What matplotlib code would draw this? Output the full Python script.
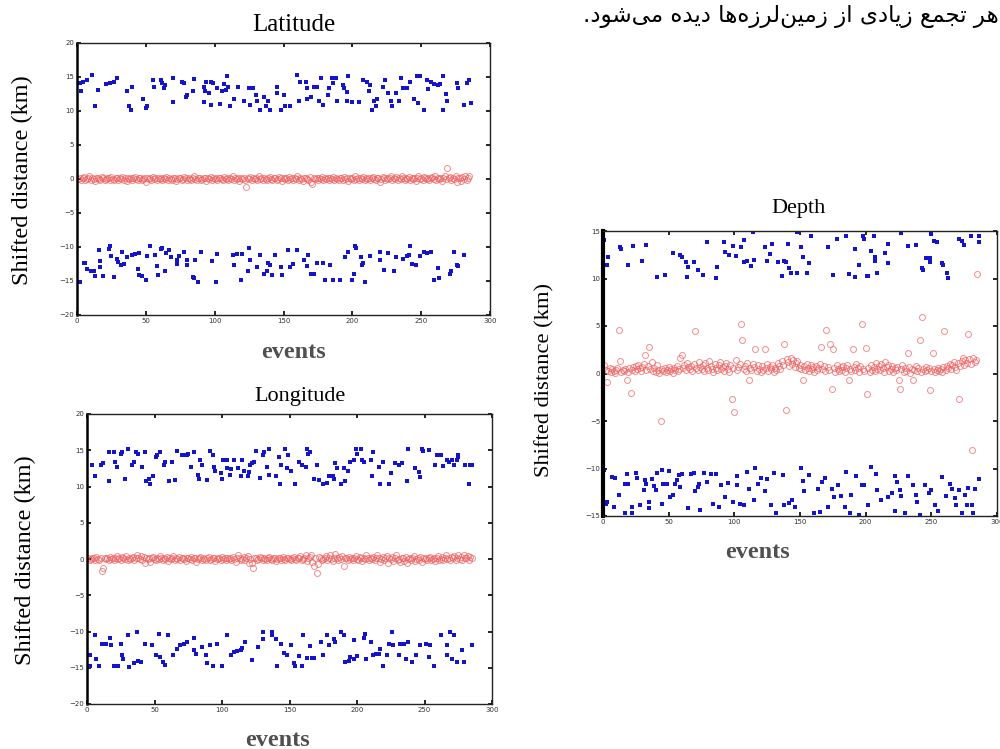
import matplotlib
matplotlib.use("Agg")
import matplotlib.pyplot as plt
import numpy as np

# ---- data ----
# Latitude panel
lat_up_x = [2, 4, 3, 7, 11, 13, 15, 21, 24, 27, 29, 36, 38, 39, 40, 48, 50, 51, 55, 56,
            61, 62, 63, 64, 70, 70, 76, 78, 79, 80, 84, 85, 92, 93, 94, 97, 99, 96, 92, 97,
            102, 104, 105, 107, 108, 109, 110, 111, 114, 117, 121, 125, 126, 127, 128, 130, 131, 133, 136, 137,
            139, 140, 145, 145, 148, 150, 151, 155, 160, 161, 162, 166, 167, 167, 170, 172, 174, 176, 177, 179,
            182, 183, 185, 186, 188, 189, 193, 194, 196, 196, 197, 200, 205, 208, 211, 213, 212, 216, 217, 214,
            218, 222, 224, 226, 228, 229, 232, 234, 235, 237, 240, 242, 245, 247, 249, 248, 252, 254, 257, 259,
            255, 262, 264, 266, 268, 269, 266, 276, 277, 281, 283, 285, 286]
lat_up_y = [14.1, 14.2, 12.9, 14.6, 15.3, 10.7, 13.1, 13.9, 14.1, 14.2, 14.8, 12.9, 10.8, 10.2, 13.6, 11.8, 10.4, 10.7, 14.6, 13.6,
            14.6, 14.1, 13.4, 13.8, 14.8, 11.3, 14.3, 14.1, 12.0, 12.4, 13.0, 14.7, 13.6, 12.9, 14.3, 14.3, 14.1, 12.6, 11.3, 10.9,
            13.4, 11.0, 13.0, 13.9, 13.1, 15.1, 13.5, 10.7, 11.7, 13.6, 11.4, 13.4, 10.9, 13.4, 13.4, 12.3, 11.4, 10.2, 12.1, 10.7,
            11.4, 10.2, 13.6, 12.6, 10.2, 12.4, 10.7, 10.8, 15.3, 11.4, 14.3, 14.3, 13.4, 11.8, 12.1, 13.5, 13.5, 11.5, 14.8, 10.9,
            12.3, 13.4, 14.8, 14.1, 14.8, 11.4, 13.8, 13.4, 11.4, 12.8, 15.2, 11.3, 11.3, 14.6, 14.3, 13.8, 13.0, 11.4, 10.8, 10.2,
            11.7, 13.5, 14.6, 12.6, 11.5, 10.7, 12.6, 11.4, 14.8, 13.4, 13.4, 14.2, 11.7, 15.1, 15.1, 11.2, 10.2, 14.6, 14.2, 13.9,
            13.3, 13.8, 13.9, 15.2, 12.5, 11.4, 10.2, 14.1, 13.4, 10.9, 14.1, 14.6, 11.2]
lat_lo_x = [2, 5, 6, 7, 10, 12, 13, 16, 17, 17, 19, 23, 24, 25, 27, 29, 30, 32, 33, 34,
            36, 40, 42, 45, 44, 45, 47, 50, 51, 53, 57, 58, 59, 61, 62, 64, 65, 67, 68, 73,
            73, 74, 78, 80, 80, 84, 85, 86, 88, 90, 98, 101, 102, 113, 114, 116, 119, 120, 124, 125,
            126, 131, 133, 136, 138, 139, 140, 142, 144, 148, 149, 153, 155, 157, 160, 165, 167, 168, 170, 172,
            174, 179, 180, 184, 186, 191, 195, 197, 200, 201, 202, 203, 206, 207, 208, 209, 213, 220, 220, 223,
            226, 230, 232, 237, 240, 241, 242, 243, 246, 249, 252, 254, 257, 262, 259, 263, 271, 272, 274, 276,
            277, 281]
lat_lo_y = [-15.1, -12.4, -12.3, -13.3, -13.5, -13.6, -14.3, -10.4, -12.0, -12.9, -14.3, -10.3, -9.9, -11.3, -14.4, -11.7, -12.2, -12.6, -10.8, -12.5,
            -11.4, -11.2, -11.0, -10.9, -13.3, -14.1, -14.3, -14.8, -11.3, -9.9, -11.2, -12.8, -14.1, -10.3, -10.1, -13.6, -10.9, -10.4, -11.4, -11.9,
            -12.5, -11.3, -10.7, -11.9, -12.6, -14.4, -14.6, -11.9, -15.1, -10.7, -12.0, -15.2, -11.0, -11.2, -12.6, -11.0, -14.8, -11.0, -13.5, -10.1,
            -11.9, -12.9, -11.2, -13.9, -13.5, -12.3, -12.6, -14.1, -11.2, -12.9, -14.1, -10.4, -12.9, -12.5, -10.4, -11.9, -12.8, -11.2, -13.9, -13.9,
            -12.4, -12.3, -14.8, -12.6, -14.8, -14.8, -11.5, -10.8, -14.8, -13.9, -9.9, -10.2, -11.4, -12.6, -12.3, -15.2, -11.3, -10.7, -11.9, -13.4,
            -10.9, -13.5, -11.4, -11.7, -11.3, -11.2, -9.9, -12.5, -12.6, -11.3, -10.8, -10.9, -10.8, -13.1, -14.8, -14.6, -13.9, -13.6, -10.8, -12.6,
            -12.8, -11.2]
lat_mid = [0.0, 0.2, -0.1, 0.1, 0.3, -0.2, 0.0, 0.1, 0.4, -0.1, 0.2, 0.0, -0.3, 0.1, 0.2,
           0.0, -0.1, 0.3, 0.1, -0.2, 0.0, 0.2, 0.1, -0.1, 0.3, 0.0, -0.2, 0.1, 0.2, -0.1,
           0.1, 0.0, 0.3, -0.1, 0.2, -0.3, 0.1, 0.0, 0.2, -0.1, 0.1, 0.3, 0.0, -0.2, 0.1,
           0.2, -0.1, 0.0, 0.1, -0.4, 0.2, 0.0, 0.1, -0.1, 0.3, 0.0, 0.1, -0.2, 0.2, 0.0,
           0.1, -0.1, 0.2, 0.0, 0.3, -0.2, 0.1, 0.0, -0.1, 0.2, 0.1, -0.3, 0.0, 0.2, 0.1,
           -0.1, 0.0, 0.3, 0.1, -0.2, 0.2, 0.0, -0.1, 0.1, 0.4, 0.0, -0.2, 0.1, 0.2, -0.1,
           0.0, 0.2, 0.1, -0.3, 0.1, 0.0, 0.3, -0.1, 0.2, 0.0, 0.1, -0.2, 0.2, 0.1, 0.0,
           -0.1, 0.3, 0.0, 0.1, -0.2, 0.2, 0.0, 0.4, -0.1, 0.1, 0.0, 0.2, -0.3, 0.1, 0.0,
           0.2, -0.1, -1.2, 0.1, 0.0, 0.3, -0.2, 0.1, 0.0, 0.2, -0.1, 0.4, 0.0, 0.1, -0.2,
           0.2, 0.0, -0.1, 0.1, 0.3, 0.0, -0.2, 0.2, 0.1, -0.1, 0.0, 0.3, 0.1, -0.3, 0.2,
           0.0, 0.1, -0.1, 0.3, 0.0, 0.2, -0.2, 0.1, 0.0, 0.4, -0.1, 0.2, 0.0, -0.3, 0.1,
           0.2, 0.0, -0.1, 0.3, -0.4, -0.8, 0.1, 0.0, 0.2, -0.2, 0.1, 0.0, 0.3, -0.1, 0.2,
           0.0, 0.1, -0.2, 0.2, 0.0, 0.3, -0.1, 0.1, 0.0, -0.2, 0.2, 0.1, -0.1, 0.3, 0.0,
           0.1, -0.3, 0.2, 0.0, 0.1, -0.1, 0.4, 0.0, 0.2, -0.2, 0.1, 0.0, 0.3, -0.1, 0.1,
           0.0, 0.2, -0.1, 0.1, 0.3, 0.0, -0.2, 0.2, 0.1, -0.4, 0.0, 0.3, 0.1, -0.1, 0.2,
           0.0, 0.1, 0.4, -0.2, 0.1, 0.0, 0.3, -0.1, 0.2, 0.0, 0.5, 0.1, -0.2, 0.2, 0.0,
           0.3, -0.1, 0.1, 0.0, 0.2, -0.3, 0.1, 0.4, 0.0, 0.2, -0.1, 0.3, 0.1, 0.0, 0.2,
           -0.2, 0.1, 0.3, 0.0, 0.5, -0.1, 0.2, 0.0, 0.1, -0.3, 0.2, 0.4, 0.0, 1.6, 0.1,
           0.3, -0.2, 0.1, 0.0, 0.4, -0.5, 0.2, 0.1, -0.3, 0.3, 0.0, 0.5, -0.2, 0.2, 0.4]

# Longitude panel
lon_up_x = [4, 6, 10, 12, 16, 16, 20, 21, 22, 25, 26, 28, 30, 33, 35, 36, 38, 41, 43, 44,
            46, 47, 49, 51, 52, 54, 57, 58, 61, 63, 65, 67, 70, 72, 74, 75, 77, 79, 82, 83,
            84, 85, 89, 91, 93, 94, 95, 99, 100, 101, 104, 104, 106, 107, 109, 112, 114, 115, 116, 119,
            120, 121, 122, 124, 125, 128, 130, 131, 133, 135, 135, 140, 142, 143, 144, 147, 148, 149, 151, 154,
            157, 159, 162, 163, 164, 165, 168, 170, 172, 175, 178, 179, 182, 183, 184, 185, 188, 190, 191, 193,
            195, 198, 199, 200, 203, 204, 205, 210, 211, 212, 216, 217, 219, 224, 225, 228, 231, 233, 237, 238,
            243, 246, 247, 248, 249, 253, 258, 259, 262, 264, 267, 268, 270, 272, 274, 275, 275, 280, 283, 284,
            285]
lon_up_y = [13.0, 11.4, 13.0, 13.2, 14.8, 10.7, 14.8, 13.4, 12.7, 14.5, 14.8, 11.0, 15.2, 12.9, 13.4, 14.8, 14.5, 12.7, 14.8, 10.7,
            11.1, 10.4, 11.5, 14.1, 14.3, 14.8, 12.9, 13.4, 10.7, 13.4, 10.9, 14.9, 14.4, 14.3, 14.3, 14.5, 12.7, 14.8, 11.6, 11.0,
            13.6, 12.9, 10.9, 14.9, 14.4, 12.7, 12.1, 11.9, 11.0, 13.6, 13.6, 12.5, 11.6, 12.4, 13.6, 12.5, 11.5, 13.6, 12.2, 11.4,
            12.0, 13.0, 13.2, 13.4, 14.9, 11.2, 14.4, 14.7, 12.7, 15.2, 11.6, 11.5, 14.1, 10.4, 12.9, 15.2, 12.5, 14.3, 12.2, 10.3,
            13.4, 13.0, 12.7, 15.2, 14.5, 14.8, 11.0, 12.9, 10.9, 10.4, 10.5, 11.5, 11.4, 11.1, 13.3, 12.5, 10.4, 12.5, 10.7, 12.2,
            13.4, 13.6, 15.2, 14.5, 15.2, 13.6, 13.4, 13.6, 11.5, 14.8, 12.7, 10.4, 13.4, 10.4, 11.8, 13.2, 13.0, 13.3, 10.7, 15.2,
            12.6, 12.0, 11.3, 15.2, 14.9, 15.0, 12.9, 14.3, 14.3, 12.8, 13.6, 13.4, 13.6, 12.9, 13.6, 14.4, 14.1, 13.0, 10.4, 12.9,
            12.9]
lon_lo_x = [2, 2, 6, 7, 9, 11, 14, 17, 18, 20, 22, 23, 25, 26, 27, 30, 31, 35, 37, 38,
            40, 43, 48, 51, 53, 54, 56, 58, 60, 64, 67, 69, 72, 74, 79, 79, 81, 85, 88, 89,
            91, 93, 96, 100, 104, 107, 109, 111, 114, 115, 117, 122, 127, 130, 130, 137, 137, 140, 141, 144,
            146, 148, 151, 153, 154, 157, 160, 159, 163, 165, 167, 168, 173, 175, 178, 179, 183, 184, 188, 190,
            191, 194, 195, 198, 198, 200, 205, 206, 207, 210, 212, 214, 216, 217, 219, 222, 224, 226, 227, 231,
            232, 235, 236, 238, 241, 244, 247, 251, 253, 254, 257, 262, 267, 267, 269, 270, 272, 274, 278, 279,
            285]
lon_lo_y = [-13.2, -14.7, -10.5, -13.8, -14.7, -11.7, -11.7, -10.9, -11.9, -14.8, -14.7, -14.7, -11.7, -13.3, -13.8, -10.5, -14.9, -14.3, -10.1, -14.1,
            -14.2, -11.7, -11.8, -13.3, -10.3, -13.5, -14.2, -14.6, -10.5, -13.3, -12.4, -11.8, -11.7, -11.5, -10.9, -12.6, -13.1, -12.1, -13.3, -14.4,
            -11.9, -14.8, -11.7, -14.8, -10.5, -13.3, -12.8, -12.7, -12.6, -12.3, -11.5, -13.9, -12.1, -10.0, -11.0, -10.1, -10.5, -11.0, -14.8, -11.7,
            -12.9, -13.2, -11.9, -14.4, -14.8, -13.4, -10.5, -14.7, -13.7, -12.0, -13.7, -13.7, -11.5, -13.3, -10.5, -11.8, -11.0, -11.4, -10.1, -10.5,
            -14.2, -14.1, -13.5, -13.8, -11.2, -13.4, -10.9, -10.4, -13.8, -11.5, -13.3, -13.1, -13.1, -12.4, -14.8, -13.3, -11.7, -10.1, -11.9, -13.3,
            -11.7, -11.7, -13.8, -11.5, -14.2, -13.2, -11.9, -11.7, -13.5, -11.9, -14.7, -10.5, -11.8, -13.2, -10.1, -13.8, -10.5, -14.2, -12.6, -14.2,
            -11.9]
lon_mid = [0.1, -0.1, 0.0, 0.2, 0.1, -0.2, 0.3, 0.0, -0.1, 0.2, -1.7, -1.3, 0.1, 0.0, 0.2,
           -0.1, 0.3, 0.0, 0.1, -0.2, 0.2, 0.4, 0.0, 0.1, -0.1, 0.3, 0.2, 0.0, 0.4, -0.1,
           0.2, 0.0, 0.1, 0.3, -0.1, 0.2, 0.5, 0.1, 0.0, 0.4, -0.2, 0.3, -0.5, 0.1, 0.0,
           0.2, -0.4, 0.1, 0.3, 0.0, -0.1, 0.2, 0.0, 0.4, 0.1, -0.2, 0.2, 0.0, 0.3, -0.3,
           0.1, 0.0, 0.2, 0.4, -0.1, 0.1, 0.0, 0.3, -0.2, 0.2, 0.1, 0.0, -0.3, 0.2, 0.1,
           0.0, 0.3, -0.1, 0.1, 0.2, -0.4, 0.0, 0.1, 0.3, -0.1, 0.2, 0.0, -0.2, 0.1, 0.3,
           -0.1, 0.0, 0.2, 0.1, -0.3, 0.0, 0.2, 0.1, -0.1, 0.3, 0.0, 0.1, -0.2, 0.2, 0.0,
           0.1, -0.1, 0.3, 0.0, -0.4, 0.2, 0.5, 0.1, -0.2, 0.0, 0.3, -0.1, 0.1, 0.4, -0.5,
           0.0, -0.6, -1.2, 0.2, 0.1, -0.2, 0.0, 0.3, 0.1, -0.1, 0.2, 0.0, -0.2, 0.1, 0.3,
           0.0, -0.1, 0.2, 0.1, -0.3, 0.0, 0.2, 0.1, -0.1, 0.3, 0.0, -0.2, 0.1, 0.2, 0.0,
           -0.1, 0.1, 0.3, 0.0, -0.2, 0.2, 0.1, 0.4, -0.1, 0.0, 0.2, 0.5, -0.3, 0.1, 0.3,
           0.6, -0.4, -0.9, 0.2, -1.9, -0.7, 0.3, 0.1, -0.2, 0.0, 0.2, 0.4, -0.1, 0.1, 0.5,
           0.0, -0.3, 0.2, 0.7, 0.1, -0.2, 0.3, 0.0, 0.4, -1.0, 0.1, 0.2, -0.1, 0.3, 0.0,
           0.2, -0.2, 0.1, 0.4, 0.0, -0.1, 0.3, 0.1, -0.3, 0.2, 0.0, 0.5, 0.1, -0.2, 0.2,
           0.0, 0.3, -0.1, 0.1, 0.6, 0.2, -0.4, 0.0, 0.3, -0.2, 0.1, 0.4, -0.5, 0.2, 0.0,
           0.3, -0.3, 0.1, 0.5, -0.2, 0.0, -0.4, 0.2, 0.1, -0.3, 0.3, -0.6, 0.0, 0.2, -0.2,
           0.1, 0.4, -0.3, 0.0, 0.2, -0.1, 0.3, -0.4, 0.1, 0.0, 0.2, -0.2, 0.1, 0.3, -0.1,
           0.0, 0.2, -0.3, 0.1, 0.4, -0.1, 0.0, 0.3, -0.2, 0.1, 0.5, 0.0, 0.2, -0.1, 0.3,
           0.1, 0.4, -0.2, 0.2, 0.6, 0.0, 0.3, -0.1, 0.5, 0.2, 0.1, 0.4, -0.2, 0.3, 0.2]

# Depth panel
dep_up_x = [0.5, 4, 3, 13, 14, 19, 23, 30, 33, 41, 47, 53, 59, 60, 63, 64, 65, 69, 72, 76,
            79, 86, 87, 92, 93, 96, 99, 101, 105, 107, 107, 110, 113, 115, 114, 123, 125, 127, 129, 133,
            136, 138, 141, 139, 142, 143, 148, 148, 151, 152, 155, 157, 158, 171, 175, 178, 185, 187, 192, 192,
            195, 198, 199, 201, 202, 204, 206, 207, 209, 207, 215, 217, 217, 227, 232, 238, 243, 244, 246, 249,
            249, 250, 252, 254, 258, 259, 262, 263, 271, 273, 275, 280, 286, 286]
dep_up_y = [14.1, 12.3, 11.4, 13.3, 13.1, 11.4, 13.4, 11.8, 13.5, 10.2, 10.4, 12.7, 12.5, 12.3, 11.7, 10.2, 11.2, 11.7, 10.9, 10.4,
            13.8, 10.1, 11.2, 13.8, 12.8, 12.5, 13.4, 12.4, 13.3, 14.1, 11.7, 11.8, 11.3, 11.9, 14.9, 13.3, 11.8, 12.6, 13.6, 11.7,
            10.3, 11.8, 13.6, 11.7, 11.1, 10.6, 10.6, 14.9, 13.3, 12.3, 10.6, 11.6, 14.5, 13.3, 10.4, 14.2, 14.5, 10.5, 13.1, 10.2,
            11.4, 14.5, 14.2, 10.3, 10.3, 12.9, 14.5, 12.3, 10.6, 11.8, 12.7, 13.6, 11.6, 14.8, 13.4, 13.5, 11.1, 10.9, 12.2, 12.2,
            11.7, 14.7, 14.0, 13.8, 11.6, 11.4, 10.6, 10.1, 14.2, 14.0, 13.5, 14.5, 14.5, 13.8]
dep_lo_x = [1, 2, 3, 7, 9, 8, 12, 17, 18, 17, 19, 22, 22, 25, 26, 28, 31, 32, 33, 35,
            35, 37, 39, 40, 41, 45, 45, 46, 49, 50, 51, 53, 55, 58, 56, 59, 60, 65, 67, 69,
            70, 72, 73, 74, 77, 79, 82, 84, 86, 88, 90, 93, 95, 99, 102, 102, 104, 107, 110, 111,
            115, 116, 118, 120, 123, 125, 128, 130, 132, 137, 138, 142, 144, 146, 151, 152, 153, 157, 161, 164,
            165, 167, 169, 171, 174, 176, 179, 181, 184, 185, 188, 189, 193, 195, 197, 199, 202, 204, 208, 209,
            212, 217, 220, 222, 222, 224, 226, 227, 230, 232, 236, 238, 239, 241, 245, 248, 250, 253, 255, 258,
            261, 264, 266, 268, 269, 271, 273, 276, 277, 278, 281, 282, 283, 286]
dep_lo_y = [-10.2, -13.7, -13.5, -10.9, -11.0, -14.0, -12.8, -14.7, -10.6, -11.6, -11.6, -14.0, -14.7, -10.5, -11.0, -13.8, -12.3, -11.2, -11.6, -13.5,
            -14.2, -11.1, -11.8, -12.3, -10.5, -10.2, -13.7, -11.6, -11.6, -10.3, -13.0, -12.8, -11.6, -10.7, -11.2, -11.9, -10.6, -14.2, -10.6, -10.5,
            -12.4, -11.9, -11.6, -14.4, -10.5, -11.4, -10.6, -13.7, -10.6, -14.0, -11.7, -13.0, -11.5, -13.5, -10.8, -11.7, -13.7, -13.8, -10.4, -12.2,
            -13.3, -9.9, -11.6, -11.0, -12.4, -11.1, -13.8, -10.5, -14.7, -10.7, -13.8, -13.6, -13.3, -14.1, -9.9, -11.3, -12.4, -10.7, -14.7, -12.2,
            -14.6, -11.4, -11.0, -14.0, -12.2, -13.0, -11.7, -12.9, -14.0, -10.4, -14.7, -12.8, -10.8, -14.9, -11.7, -11.7, -13.8, -9.8, -10.6, -12.3,
            -13.3, -13.0, -12.6, -10.8, -14.5, -11.4, -12.3, -12.9, -14.7, -10.8, -11.7, -12.8, -13.5, -14.9, -11.7, -12.6, -12.3, -13.8, -14.5, -10.9,
            -12.9, -11.6, -12.2, -13.1, -13.8, -12.3, -14.7, -12.8, -13.8, -12.0, -13.8, -14.7, -12.2, -11.1]
dep_mid = [0.9, 0.4, -0.9, 0.3, 0.6, 0.2, 0.5, 0.3, 0.1, 0.4, 0.6, 4.6, 1.3, 0.2, 0.4,
           0.3, 0.5, -0.7, 0.2, 0.6, -2.1, 0.4, 0.7, 0.3, 0.8, 0.5, 0.9, 0.6, 0.3, 0.7,
           1.0, 1.9, 0.4, 0.8, 2.8, 0.5, 1.2, 0.3, 0.6, 0.2, 0.9, 0.4, 0.1, -5.0, 0.5,
           0.3, 0.6, 0.2, 0.4, 0.7, 0.3, 0.5, 0.1, 0.6, 0.4, 0.8, 0.3, 0.5, 1.6, 2.0,
           0.6, 0.9, 0.4, 1.1, 0.7, 0.5, 0.8, 0.3, 1.0, 4.5, 0.6, 0.4, 1.2, 0.7, 0.5,
           0.9, 0.3, 1.1, 0.6, 0.4, 1.3, 0.8, 0.5, 0.2, 1.0, 0.6, 0.4, 0.9, 1.2, 0.5,
           0.7, 0.3, 0.8, 1.1, 0.5, 0.2, 0.9, -2.7, 0.6, -4.0, 1.4, 0.4, 0.7, 1.0, 5.2,
           3.5, 0.5, 0.8, 0.3, 1.1, -0.7, 0.6, 0.4, 1.0, 0.7, 2.6, 0.3, 0.9, 0.5, 0.2,
           0.8, 0.4, 2.6, 0.6, 1.0, 0.3, 0.7, 0.5, 0.9, 0.2, 0.6, 0.4, 1.1, 0.8, 0.5,
           1.3, 0.9, 3.1, -3.8, 1.5, 1.2, 0.8, 1.6, 1.0, 1.4, 0.7, 1.1, 1.3, 0.6, 0.9,
           0.5, -0.7, 0.8, 0.4, 1.0, 0.6, 0.3, 0.9, 0.5, 0.7, 0.2, 0.8, 0.4, 0.6, 1.0,
           2.8, 0.5, 0.8, 0.3, 4.6, 0.7, 0.4, 3.1, -1.6, 2.6, 0.6, 0.2, 0.9, 0.5, 0.3,
           0.7, 0.4, 0.8, 0.2, 0.6, 0.9, -0.7, 0.5, 0.3, 2.6, 0.7, 0.4, 1.0, 0.6, 0.2,
           0.8, 5.2, 0.5, 0.3, 2.7, -2.2, 0.6, 0.2, 0.9, 0.4, 0.7, 0.3, 1.1, 0.5, 0.8,
           0.4, 1.0, 0.6, 0.2, 1.2, 0.7, 0.9, 0.3, 0.5, 0.8, 0.2, 0.6, 0.4, 0.7, -0.7,
           -1.6, 0.5, 0.9, 0.2, 0.6, 0.3, 2.2, 0.7, 0.1, 0.5, -0.7, 0.4, 0.8, 0.3, 0.6,
           3.5, 0.2, 5.9, 0.5, 0.3, 0.7, 0.4, 0.6, -1.7, 0.3, 2.2, 0.5, 0.2, 0.4, 0.6,
           0.3, 0.5, 0.2, 0.7, 4.5, 0.4, 0.8, 0.6, 1.0, 0.5, 0.9, 1.2, 0.7, 0.4, 1.1,
           -2.7, 0.8, 1.3, 1.6, 0.9, 1.4, 1.1, 4.2, 1.5, 1.0, -8.1, 1.6, 1.2, 1.4, 10.5]

caption = "هر تجمع زیادی از زمین‌لرزه‌ها دیده می‌شود."

lat_ticks = [-20, -15, -10, -5, 0, 5, 10, 15, 20]
dep_ticks = [-15, -10, -5, 0, 5, 10, 15]
x_ticks = [0, 50, 100, 150, 200, 250, 300]


# matplotlib has no Arabic shaping, so map letters to presentation forms
FORMS = {
    'ا': ('\uFE8D', '\uFE8E', None, None),
    'ت': ('\uFE95', '\uFE96', '\uFE97', '\uFE98'),
    'ج': ('\uFE9D', '\uFE9E', '\uFE9F', '\uFEA0'),
    'د': ('\uFEA9', '\uFEAA', None, None),
    'ر': ('\uFEAD', '\uFEAE', None, None),
    'ز': ('\uFEAF', '\uFEB0', None, None),
    'ش': ('\uFEB5', '\uFEB6', '\uFEB7', '\uFEB8'),
    'ع': ('\uFEC9', '\uFECA', '\uFECB', '\uFECC'),
    'ل': ('\uFEDD', '\uFEDE', '\uFEDF', '\uFEE0'),
    'م': ('\uFEE1', '\uFEE2', '\uFEE3', '\uFEE4'),
    'ن': ('\uFEE5', '\uFEE6', '\uFEE7', '\uFEE8'),
    'ه': ('\uFEE9', '\uFEEA', '\uFEEB', '\uFEEC'),
    'و': ('\uFEED', '\uFEEE', None, None),
    'ی': ('\uFEEF', '\uFEF0', '\uFEF3', '\uFEF4'),
}


def shape(text):
    out = []
    for i, ch in enumerate(text):
        if ch == '\u200c':
            continue
        if ch not in FORMS:
            out.append(ch)
            continue
        prev = text[i - 1] if i > 0 else ''
        nxt = text[i + 1] if i + 1 < len(text) else ''
        join_prev = prev in FORMS and FORMS[prev][2] is not None
        join_next = FORMS[ch][2] is not None and nxt in FORMS
        iso, fin, ini, med = FORMS[ch]
        if join_prev and join_next:
            out.append(med)
        elif join_prev:
            out.append(fin)
        elif join_next:
            out.append(ini)
        else:
            out.append(iso)
    return ''.join(reversed(out))


def panel(ax, up_x, up_y, lo_x, lo_y, mid, ylim, yticks, ms_mid, left_lw):
    ev = np.arange(1, len(mid) + 1)
    ax.plot(ev, mid, 'o', ms=ms_mid, mfc='none', mec='#ee5f5f', mew=0.7, alpha=0.7)
    ax.plot(up_x, up_y, 's', ms=2.5, color='#1414cc', mew=0)
    ax.plot(lo_x, lo_y, 's', ms=2.5, color='#1414cc', mew=0)
    ax.set_xlim(0, 300)
    ax.set_ylim(*ylim)
    ax.set_xticks(x_ticks)
    ax.set_yticks(yticks)
    ax.tick_params(direction='in', length=3, width=1.2, top=True, right=True,
                   labelsize=5, labelcolor='#333333', pad=2)
    for s in ax.spines.values():
        s.set_color('#222222')
        s.set_linewidth(1.0)
    ax.spines['left'].set_linewidth(left_lw)
    ax.spines['left'].set_color('black')


fig = plt.figure(figsize=(10, 7.49), dpi=100)
W, H = 1000, 749


def fx(px):
    return px / W


def fy(py):
    return 1 - py / H


ax1 = fig.add_axes([fx(77), fy(315), fx(490 - 77), (315 - 43) / H])
panel(ax1, lat_up_x, lat_up_y, lat_lo_x, lat_lo_y, lat_mid, (-20, 20), lat_ticks, 4.3, 1.8)
ax2 = fig.add_axes([fx(87), fy(704), fx(492 - 87), (704 - 414) / H])
panel(ax2, lon_up_x, lon_up_y, lon_lo_x, lon_lo_y, lon_mid, (-20, 20), lat_ticks, 4.3, 1.8)
ax3 = fig.add_axes([fx(603), fy(516), fx(997 - 603), (516 - 231) / H])
panel(ax3, dep_up_x, dep_up_y, dep_lo_x, dep_lo_y, dep_mid, (-15, 15), dep_ticks, 4.3, 3.0)

serif = 'Liberation Serif'
fig.text(fx(294), fy(25), 'Latitude', family=serif, fontsize=18, ha='center', va='center')
fig.text(fx(300), fy(397), 'Longitude', family=serif, fontsize=16, ha='center', va='center')
fig.text(fx(798), fy(208), 'Depth', family=serif, fontsize=16, ha='center', va='center')

fig.text(fx(22), fy(180), 'Shifted distance (km)', family=serif, fontsize=17.5,
         rotation=90, ha='center', va='center')
fig.text(fx(25), fy(560), 'Shifted distance (km)', family=serif, fontsize=17.5,
         rotation=90, ha='center', va='center')
fig.text(fx(545), fy(380), 'Shifted distance (km)', family=serif, fontsize=16.2,
         rotation=90, ha='center', va='center')

for px, py in [(293, 352), (277, 740), (758, 553)]:
    fig.text(fx(px), fy(py), 'events', family=serif, fontsize=17.5, fontweight='bold',
             color='#505050', ha='center', va='center')

fig.text(0.999, fy(16), shape(caption), family=['DejaVu Sans'], fontsize=16.6,
         ha='right', va='center')

fig.savefig('out.png', dpi=100)
